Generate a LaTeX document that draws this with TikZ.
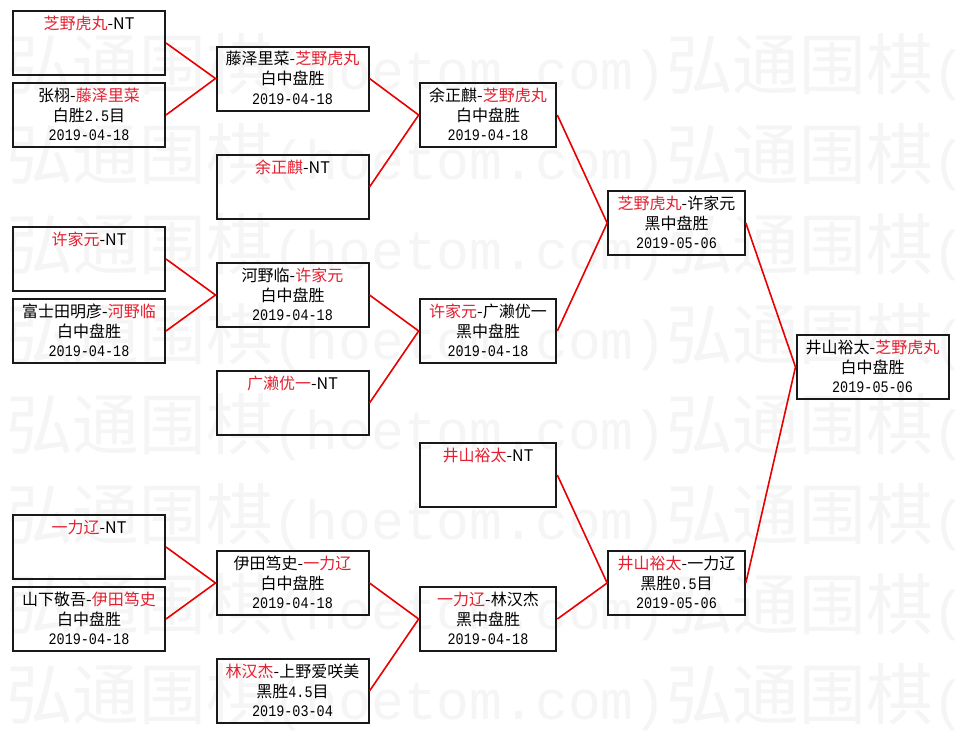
\documentclass[tikz,border=0pt]{standalone}
\usepackage{fontspec}
\setmainfont{Noto Sans CJK SC}
\newfontfamily\monof[FakeStretch=0.84]{Liberation Mono}
\newfontfamily\wmonof{Liberation Mono}
\definecolor{rtxt}{RGB}{228,32,48}
\definecolor{rline}{RGB}{232,0,0}
\definecolor{wmark}{RGB}{245,245,245}
\newcommand\rname[1]{\textcolor{rtxt}{#1}}
\newcommand\dt[1]{{\monof\fontsize{12}{15}\selectfont #1}}
\newcommand\gline[1]{\strut\raisebox{-1.6pt}{#1}}
\newcommand\bx[3]{\gline{#1}\\\gline{#2}\\\gline{#3}}
\newcommand\wm{{\fontsize{50}{50}\selectfont 弘通围棋}{\wmonof\fontsize{41}{50}\selectfont (hoetom.com)}}
\begin{document}
\begin{tikzpicture}[x=0.75pt,y=-0.75pt,
  game/.style={draw=black!90, line width=1.5pt, minimum width=114pt, minimum height=48pt,
    inner sep=0pt, align=center, font=\fontsize{12}{14.7}\selectfont},
  gamen/.style={game, minimum width=102.5pt},
  conn/.style={draw=rline, line width=1.2pt},
  wmk/.style={anchor=west, inner sep=0pt, text=wmark}]
\useasboundingbox[fill=white] (0,0) rectangle (960,733);
% watermark
\begin{scope}
\clip (0,0) rectangle (960,733);
\foreach \r in {0,...,7}{
  \node[wmk] (wa\r) at (6,67+90*\r) {\wm};
  \node[wmk] (wb\r) at (666,67+90*\r) {\wm};
}
\end{scope}
% round 1
\node[game] (A1) at (89,43)  {\bx{\rname{芝野虎丸}-NT}{}{}};
\node[game] (A2) at (89,115) {\bx{张栩-\rname{藤泽里菜}}{白胜\dt{2.5}目}{\dt{2019-04-18}}};
\node[game] (A3) at (89,259) {\bx{\rname{许家元}-NT}{}{}};
\node[game] (A4) at (89,331) {\bx{富士田明彦-\rname{河野临}}{白中盘胜}{\dt{2019-04-18}}};
\node[game] (A5) at (89,547) {\bx{\rname{一力辽}-NT}{}{}};
\node[game] (A6) at (89,619) {\bx{山下敬吾-\rname{伊田笃史}}{白中盘胜}{\dt{2019-04-18}}};
% round 2
\node[game] (B1) at (292.5,78.5) {\bx{藤泽里菜-\rname{芝野虎丸}}{白中盘胜}{\dt{2019-04-18}}};
\node[game] (B2) at (292.5,187)  {\bx{\rname{余正麒}-NT}{}{}};
\node[game] (B3) at (292.5,295)  {\bx{河野临-\rname{许家元}}{白中盘胜}{\dt{2019-04-18}}};
\node[game] (B4) at (292.5,403)  {\bx{\rname{广濑优一}-NT}{}{}};
\node[game] (B5) at (292.5,583)  {\bx{伊田笃史-\rname{一力辽}}{白中盘胜}{\dt{2019-04-18}}};
\node[game] (B6) at (292.5,691)  {\bx{\rname{林汉杰}-上野爱咲美}{黑胜\dt{4.5}目}{\dt{2019-03-04}}};
% round 3
\node[gamen] (C1) at (488,115) {\bx{余正麒-\rname{芝野虎丸}}{白中盘胜}{\dt{2019-04-18}}};
\node[gamen] (C2) at (488,331) {\bx{\rname{许家元}-广濑优一}{黑中盘胜}{\dt{2019-04-18}}};
\node[gamen] (C3) at (488,475) {\bx{\rname{井山裕太}-NT}{}{}};
\node[gamen] (C4) at (488,619) {\bx{\rname{一力辽}-林汉杰}{黑中盘胜}{\dt{2019-04-18}}};
% round 4
\node[gamen] (D1) at (676.5,223) {\bx{\rname{芝野虎丸}-许家元}{黑中盘胜}{\dt{2019-05-06}}};
\node[gamen] (D2) at (676.5,583) {\bx{\rname{井山裕太}-一力辽}{黑胜\dt{0.5}目}{\dt{2019-05-06}}};
% final
\node[game] (E) at (872.5,367) {\bx{井山裕太-\rname{芝野虎丸}}{白中盘胜}{\dt{2019-05-06}}};
% connectors
\draw[conn] (A1.east) -- (B1.west) -- (A2.east);
\draw[conn] (A3.east) -- (B3.west) -- (A4.east);
\draw[conn] (A5.east) -- (B5.west) -- (A6.east);
\draw[conn] (B1.east) -- (C1.west) -- (B2.east);
\draw[conn] (B3.east) -- (C2.west) -- (B4.east);
\draw[conn] (B5.east) -- (C4.west) -- (B6.east);
\draw[conn] (C1.east) -- (D1.west) -- (C2.east);
\draw[conn] (C3.east) -- (D2.west) -- (C4.east);
\draw[conn] (D1.east) -- (E.west) -- (D2.east);
\end{tikzpicture}
\end{document}
